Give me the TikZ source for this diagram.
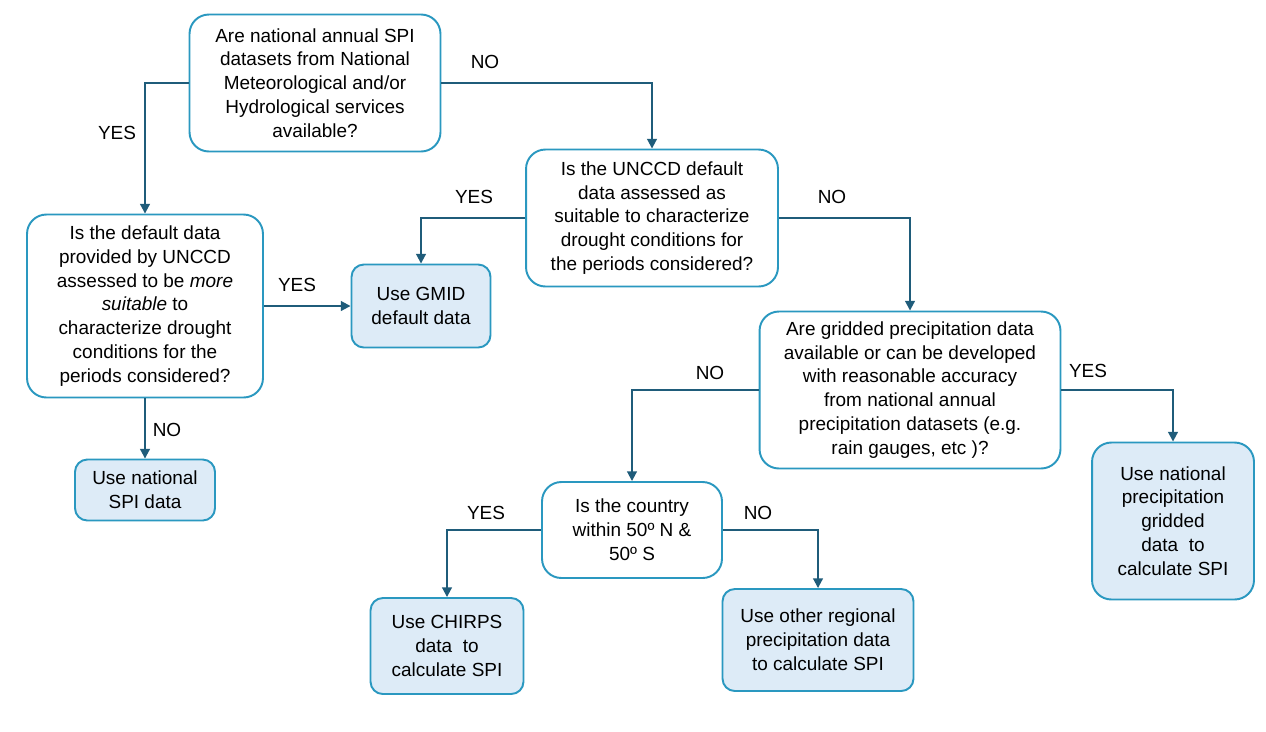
\documentclass[tikz,border=0pt]{standalone}
\usepackage{fontspec}
\setmainfont{Liberation Sans}
\usepackage{tikz}
\usetikzlibrary{arrows.meta}

\definecolor{boxline}{RGB}{42,152,192}
\definecolor{arrowline}{RGB}{31,92,122}
\definecolor{boxfill}{RGB}{221,235,247}

\tikzset{
    question/.style={draw=boxline, line width=1.1pt, fill=white, rounded corners=11pt,
        align=center, inner sep=2pt, font=\fontsize{10.8pt}{13.6pt}\selectfont},
    answer/.style={question, fill=boxfill, rounded corners=7pt},
    link/.style={draw=arrowline, line width=1.1pt, -{Triangle[length=5.5pt,width=5.5pt]}},
    tag/.style={font=\fontsize{10.8pt}{13.6pt}\selectfont}
}

\begin{document}
\begin{tikzpicture}[x=0.02cm, y=-0.02cm]
        \useasboundingbox[fill=white] (0,0) rectangle (1266,731);

        \node[question, minimum width=5.02cm, minimum height=2.74cm] (Q1) at (315,83)
            {Are national annual SPI\\datasets from National\\Meteorological and/or\\Hydrological services\\available?};
        \node[question, minimum width=5.04cm, minimum height=2.74cm] (Q2) at (652,218)
            {Is the UNCCD default\\data assessed as\\suitable to characterize\\drought conditions for\\the periods considered?};
        \node[question, minimum width=4.72cm, minimum height=3.66cm] (Q3) at (145,306)
            {Is the default data\\provided by UNCCD\\assessed to be \textit{more}\\\textit{suitable} to\\characterize drought\\conditions for the\\periods considered?};
        \node[question, minimum width=6.02cm, minimum height=3.14cm] (Q4) at (910,390)
            {Are gridded precipitation data\\available or can be developed\\with reasonable accuracy\\from national annual\\precipitation datasets (e.g.\\rain gauges, etc )?};
        \node[question, minimum width=3.6cm, minimum height=1.92cm] (Q5) at (632,530)
            {Is the country\\within 50º N \&\\50º S};

        \node[answer, minimum width=2.78cm, minimum height=1.66cm] (R1) at (421,306)
            {Use GMID\\default data};
        \node[answer, minimum width=2.8cm, minimum height=1.22cm] (R2) at (145,490)
            {Use national\\SPI data};
        \node[answer, minimum width=3.06cm, minimum height=1.92cm] (R3) at (447,646)
            {Use CHIRPS\\data\ \ to\\calculate SPI};
        \node[answer, minimum width=3.82cm, minimum height=2.04cm] (R4) at (818,640)
            {Use other regional\\precipitation data\\to calculate SPI};
        \node[answer, minimum width=3.24cm, minimum height=3.14cm, rounded corners=11pt] (R5) at (1173,521)
            {Use national\\precipitation\\gridded\\data\ \ to\\calculate SPI};

        \draw[link] (Q1.west) -| (Q3.north);
        \draw[link] (Q1.east) -| (Q2.north);
        \draw[link] (Q2.west) -| (R1.north);
        \draw[link] (Q2.east) -| (Q4.north);
        \draw[link] (Q3.east) -- (R1.west);
        \draw[link] (Q3.south) -- (R2.north);
        \draw[link] (Q4.west) -| (Q5.north);
        \draw[link] (Q4.east) -| (R5.north);
        \draw[link] (Q5.west) -| (R3.north);
        \draw[link] (Q5.east) -| (R4.north);

        \node[tag] (yes1) at (117,133) {YES};
        \node[tag] (no1) at (485,62) {NO};
        \node[tag] (yes2) at (474,197) {YES};
        \node[tag] (no2) at (832,197) {NO};
        \node[tag] (yes3) at (297,285) {YES};
        \node[tag] (no3) at (167,430) {NO};
        \node[tag] (no4) at (710,373) {NO};
        \node[tag] (yes4) at (1088,371) {YES};
        \node[tag] (yes5) at (486,513) {YES};
        \node[tag] (no5) at (758,513) {NO};
\end{tikzpicture}
\end{document}
